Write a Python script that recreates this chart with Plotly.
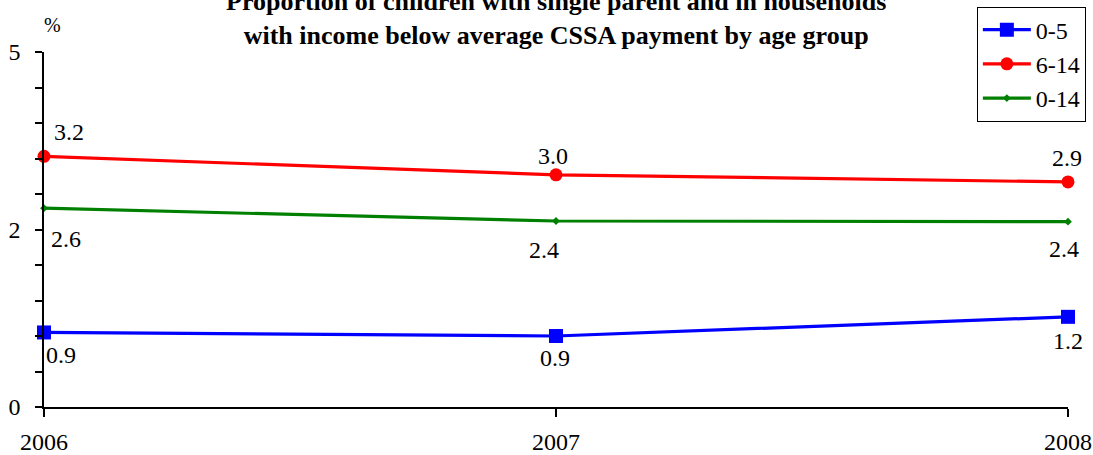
import plotly.graph_objects as go

# ---- data ----
years = [2006, 2007, 2008]
series_names = ["0-5", "6-14", "0-14"]
# plotted heights (read on the drawn y axis)
values_0_5 = [1.05, 1.00, 1.27]
values_6_14 = [3.53, 3.27, 3.17]
values_0_14 = [2.80, 2.62, 2.61]
# data labels as printed on the chart
labels_0_5 = ["0.9", "0.9", "1.2"]
labels_6_14 = ["3.2", "3.0", "2.9"]
labels_0_14 = ["2.6", "2.4", "2.4"]
# y axis ticks / labels
y_tick_vals = [0, 0.5, 1, 1.5, 2, 2.5, 3, 3.5, 4, 4.5, 5]
y_tick_text = ["0", "", "", "", "", "2", "", "", "", "", "5"]
x_tick_vals = [2006, 2007, 2008]
x_tick_text = ["2006", "2007", "2008"]

# ---- styling ----
FONT = "Liberation Serif"
colors = ["#0000FF", "#FF0000", "#008000"]
symbols = ["square", "circle", "diamond"]
msizes = [14, 13, 6]
all_values = [values_0_5, values_6_14, values_0_14]
all_labels = [labels_0_5, labels_6_14, labels_0_14]
# label pixel offsets (dx, dy) relative to each point
offsets = [
    [(17, -23), (-1, -22), (0, -24)],
    [(25, 24), (-3, 19), (-1, 24)],
    [(22, -31), (-12, -29), (-4, -27)],
]

fig = go.Figure()
for name, vals, col, sym, ms in zip(series_names, all_values, colors, symbols, msizes):
    fig.add_trace(go.Scatter(
        x=years, y=vals, name=name, mode="lines+markers",
        line=dict(color=col, width=3.2),
        marker=dict(color=col, symbol=sym, size=ms),
        cliponaxis=False,
    ))

for vals, labs, offs in zip(all_values, all_labels, offsets):
    for xv, yv, t, (dx, dy) in zip(years, vals, labs, offs):
        fig.add_annotation(x=xv, y=yv, xref="x", yref="y", text=t,
                           showarrow=False, xshift=dx, yshift=dy,
                           font=dict(family=FONT, size=24, color="black"))

# title
fig.add_annotation(
    xref="paper", yref="paper", x=0.5, y=1.094, xanchor="center", yanchor="middle",
    text="<b>Proportion of children with single parent and in households<br>"
         "with income below average CSSA payment by age group</b>",
    showarrow=False, font=dict(family=FONT, size=26, color="black"),
)
# y unit
fig.add_annotation(xref="paper", yref="paper", x=0.008, y=1.075, text="%",
                   showarrow=False, xanchor="center", yanchor="middle",
                   font=dict(family=FONT, size=20, color="black"))

fig.update_layout(
    width=1093, height=455,
    margin=dict(l=44, r=25, t=52, b=48, pad=0, autoexpand=False),
    paper_bgcolor="white", plot_bgcolor="white",
    font=dict(family=FONT, size=24, color="black"),
    showlegend=True,
    legend=dict(
        x=0.911, y=1.128, xanchor="left", yanchor="top",
        bordercolor="black", borderwidth=1, bgcolor="white",
        font=dict(family=FONT, size=24, color="black"),
        itemwidth=48, tracegroupgap=0,
    ),
    xaxis=dict(
        range=[2006, 2008], tickvals=x_tick_vals, ticktext=x_tick_text,
        showgrid=False, zeroline=False, showline=True, linecolor="black", linewidth=2,
        ticks="outside", ticklen=8, tickcolor="black", tickwidth=1.5,
        ticklabelstandoff=4, automargin=False,
    ),
    yaxis=dict(
        range=[0, 5], tickvals=y_tick_vals, ticktext=y_tick_text,
        showgrid=False, zeroline=False, showline=True, linecolor="black", linewidth=1.5,
        ticks="outside", ticklen=7, tickcolor="black", tickwidth=1.5,
        ticklabelstandoff=10, automargin=False,
    ),
)

fig.write_html("out.html", config={"displayModeBar": False},
               post_script="document.body.style.margin='0';")
